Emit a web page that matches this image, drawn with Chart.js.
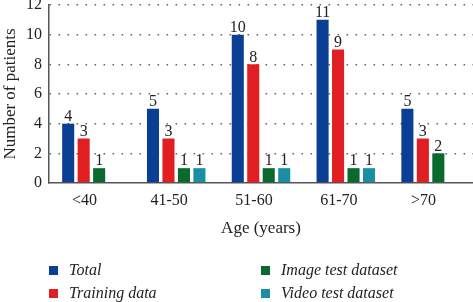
<!DOCTYPE html>
<html>
<head>
<meta charset="utf-8">
<script src="https://cdn.jsdelivr.net/npm/chart.js@4"></script>
<style>
  body { margin: 0; background: #fff; }
  #wrap { position: relative; width: 473px; height: 302px; }
  #legend { position: absolute; left: 0; top: 0; width: 473px; height: 302px; pointer-events: none;
    font-family: "Liberation Serif", "DejaVu Serif", serif; font-style: italic; font-size: 16px; color: #222; }
  .item { position: absolute; white-space: nowrap; line-height: 16px; }
  .box { position: absolute; width: 9px; height: 9px; left: -20px; top: 4px; }
</style>
</head>
<body>
<div id="wrap">
  <canvas id="chart" width="473" height="302"></canvas>
  <div id="legend"></div>
</div>
<script>
const ageGroups = ['<40', '41-50', '51-60', '61-70', '>70'];
const totalPatients = [4, 5, 10, 11, 5];
const trainingData = [3, 3, 8, 9, 3];
const imageTest = [1, 1, 1, 1, 2];
const videoTest = [null, 1, 1, 1, null];
const yTicks = [0, 2, 4, 6, 8, 10, 12];

const seriesNames = ['Total', 'Training data', 'Image test dataset', 'Video test dataset'];
const seriesColors = ['#0b3f93', '#e11f22', '#0a6a2d', '#1a8fa4'];

// value labels above each bar
const valueLabels = {
  id: 'valueLabels',
  afterDatasetsDraw(chart) {
    const ctx = chart.ctx;
    ctx.save();
    ctx.font = '16px "Liberation Serif", serif';
    ctx.fillStyle = '#222';
    ctx.textAlign = 'center';
    ctx.textBaseline = 'bottom';
    chart.data.datasets.forEach((ds, i) => {
      chart.getDatasetMeta(i).data.forEach((bar, j) => {
        if (ds.data[j] == null) return;
        ctx.fillText(ds.data[j], bar.x, bar.y + 1);
      });
    });
    ctx.restore();
  }
};

const tickFont = { family: '"Liberation Serif", serif', size: 16 };

new Chart(document.getElementById('chart'), {
  type: 'bar',
  data: {
    labels: ageGroups,
    datasets: [totalPatients, trainingData, imageTest, videoTest].map((d, i) => ({
      label: seriesNames[i],
      data: d,
      backgroundColor: seriesColors[i],
      categoryPercentage: 0.73,
      barPercentage: 0.78
    }))
  },
  options: {
    responsive: false,
    animation: false,
    layout: { padding: { top: 5, right: 0, left: 0, bottom: 59 } },
    plugins: { legend: { display: false }, tooltip: { enabled: false } },
    scales: {
      x: {
        grid: { display: false, drawTicks: false },
        border: { color: '#555', width: 1.5 },
        ticks: { font: tickFont, color: '#222', padding: 8, labelOffset: -7 },
        title: { display: true, text: 'Age (years)', font: { family: '"Liberation Serif", serif', size: 17 }, color: '#222', padding: { top: 10 } },
        afterFit(axis) { axis.height = 60; }
      },
      y: {
        min: 0, max: 12,
        afterBuildTicks(axis) { axis.ticks = yTicks.map(v => ({ value: v })); },
        grid: {
          drawTicks: false,
          color: ctx => ctx.tick && ctx.tick.value === 0 ? 'rgba(0,0,0,0)' : '#666',
          lineWidth: 1.6
        },
        border: { color: '#555', width: 1.5, dash: [1.6, 7.4] },
        ticks: { font: tickFont, color: '#222', padding: 7 },
        title: { display: true, text: 'Number of patients', font: { family: '"Liberation Serif", serif', size: 17 }, color: '#222', padding: 0 },
        afterFit(axis) { axis.width = 49; axis.paddingTop = 0; }
      }
    }
  },
  plugins: [valueLabels]
});

// two-column legend below the plot
const legendPos = [[69, 262], [69, 285], [281, 262], [281, 285]];
const legend = document.getElementById('legend');
seriesNames.forEach((name, i) => {
  const item = document.createElement('div');
  item.className = 'item';
  item.style.left = legendPos[i][0] + 'px';
  item.style.top = legendPos[i][1] + 'px';
  item.innerHTML = '<span class="box" style="background:' + seriesColors[i] + '"></span>' + name;
  legend.appendChild(item);
});
</script>
</body>
</html>
